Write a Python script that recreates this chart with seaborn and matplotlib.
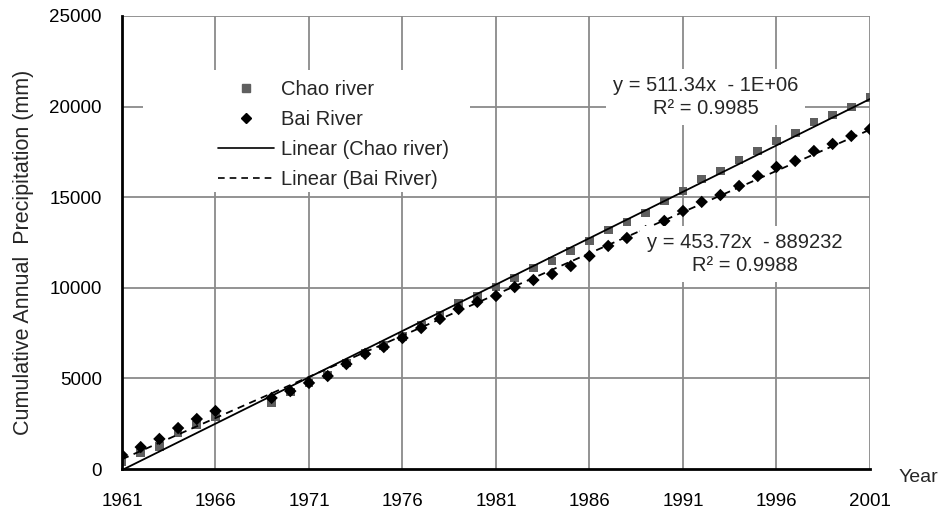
import numpy as np
import pandas as pd
import seaborn as sns
import matplotlib
matplotlib.use("Agg")
import matplotlib.pyplot as plt
from matplotlib.lines import Line2D
from matplotlib.patches import Rectangle

years = [1961, 1962, 1963, 1964, 1965, 1966, 1969, 1970, 1971, 1972, 1973, 1974,
         1975, 1976, 1977, 1978, 1979, 1980, 1981, 1982, 1983, 1984, 1985, 1986,
         1987, 1988, 1989, 1990, 1991, 1992, 1993, 1994, 1995, 1996, 1997, 1998,
         1999, 2000, 2001]
chao = [390, 880, 1250, 1990, 2430, 2870, 3640, 4250, 4750, 5190, 5850, 6400,
        6800, 7300, 7950, 8500, 9160, 9550, 10040, 10540, 11090, 11480, 12030, 12580,
        13190, 13630, 14130, 14790, 15340, 16000, 16450, 17050, 17550, 18100, 18540, 19150,
        19540, 19980, 20500]
bai = [770, 1210, 1660, 2260, 2760, 3200, 3920, 4300, 4750, 5130, 5790, 6350,
       6730, 7230, 7780, 8280, 8830, 9220, 9550, 10040, 10430, 10760, 11200, 11750,
       12310, 12750, 13130, 13690, 14240, 14740, 15120, 15620, 16170, 16670, 17000, 17550,
       17940, 18380, 18760]
series_names = ["Chao river", "Bai River"]
eq_chao = "y = 511.34x  - 1E+06\nR² = 0.9985"
eq_bai = "y = 453.72x  - 889232\nR² = 0.9988"
xticks = [1961, 1966, 1971, 1976, 1981, 1986, 1991, 1996, 2001]
yticks = [0, 5000, 10000, 15000, 20000, 25000]

sns.set_style("white")
plt.rcParams['font.family'] = ['Liberation Sans', 'DejaVu Sans']

df = pd.DataFrame({"Year": years, "Chao": chao, "Bai": bai})

fig = plt.figure(figsize=(9.41, 5.16), dpi=100)
ax = fig.add_axes([122/941, 1-469/516, (870-122)/941, (469-16)/516])

gridc = "#8a8a8a"
for xt in xticks[1:]:
    ax.axvline(xt, color=gridc, lw=1.3, zorder=0)
for yt in yticks[1:]:
    ax.axhline(yt, color=gridc, lw=1.3, zorder=0)

sns.scatterplot(data=df, x="Year", y="Chao", marker="s", color="#5f5f5f", s=40,
                edgecolor="none", ax=ax, zorder=3)
sns.scatterplot(data=df, x="Year", y="Bai", marker="D", color="black", s=40,
                edgecolor="none", ax=ax, zorder=4)

xs = np.array([1961, 2001])
pc = np.polyfit(df["Year"], df["Chao"], 1)
pb = np.polyfit(df["Year"], df["Bai"], 1)
fit = pd.DataFrame({"Year": xs, "Chao": np.polyval(pc, xs), "Bai": np.polyval(pb, xs)})
sns.lineplot(data=fit, x="Year", y="Chao", color="black", lw=1.3, ax=ax, zorder=5)
sns.lineplot(data=fit, x="Year", y="Bai", color="black", lw=1.3, ax=ax, zorder=5)
ax.lines[-1].set_dashes([4, 3])

ax.set_xlim(1961, 2001)
ax.set_ylim(0, 25000)
ax.set_xticks(xticks)
ax.set_yticks(yticks)
ax.tick_params(axis="both", direction="inout", length=9, width=1.5, labelsize=13.5,
               colors="black")
ax.tick_params(axis="y", pad=10)
ax.tick_params(axis="x", pad=13)
for s in ["top", "right"]:
    ax.spines[s].set_visible(False)
for s in ["left", "bottom"]:
    ax.spines[s].set_linewidth(2)
    ax.spines[s].set_color("black")
    ax.spines[s].set_zorder(6)
ax.set_xlabel("")
ax.set_ylabel("Cumulative Annual  Precipitation (mm)", fontsize=15.5, va="center")
ax.yaxis.set_label_coords(-0.132, 0.478)
ax.patch.set_alpha(0)
fig.text(918/941, 1-478/516, "Year", fontsize=14, ha="center", va="center")

bbox = dict(facecolor="white", edgecolor="none", pad=5)
ax.text(1992.2, 20530, eq_chao, ha="center", va="center", fontsize=14.5,
        bbox=bbox, zorder=7, linespacing=1.25)
ax.text(1994.3, 11865, eq_bai, ha="center", va="center", fontsize=14.5,
        bbox=bbox, zorder=7, linespacing=1.25)

ax.add_patch(Rectangle((0.028, 0.611), 0.437, 0.27, transform=ax.transAxes,
                       facecolor="white", edgecolor="none", zorder=7))
handles = [
    Line2D([], [], marker="s", ls="none", color="#5f5f5f", markersize=6),
    Line2D([], [], marker="D", ls="none", color="black", markersize=5.5),
    Line2D([], [], color="black", lw=1.2),
    Line2D([], [], color="black", lw=1.2, dashes=[4, 3]),
]
labels = [series_names[0], series_names[1],
          "Linear (%s)" % series_names[0], "Linear (%s)" % series_names[1]]
leg = ax.legend(handles, labels, loc="upper left", bbox_to_anchor=(0.128, 0.859),
                fontsize=14.5, frameon=False, handlelength=2.8, handletextpad=0.35,
                labelspacing=0.55, borderpad=0, borderaxespad=0)
leg.set_zorder(8)

fig.savefig("out.png", dpi=100)
